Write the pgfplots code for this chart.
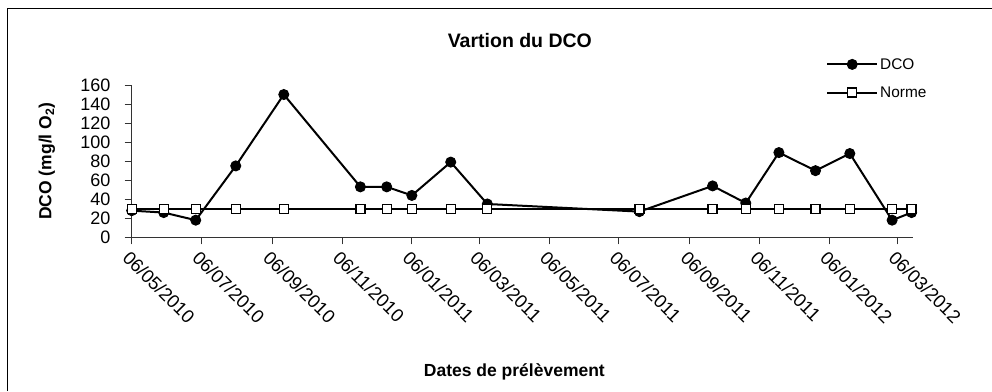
\documentclass[border=0pt]{standalone}
\usepackage{fontspec}
\setmainfont{Liberation Sans}
\usepackage{pgfplots}
\pgfplotsset{compat=1.18}

\begin{document}
\begin{tikzpicture}[x=1pt,y=1pt]
\useasboundingbox (0,0) rectangle (992,-391);
% chart frame (only top and left edges are visible)
\draw[line width=1pt] (7,-391) -- (7,-8) -- (992,-8);

\begin{axis}[
	at={(131.7pt,-237.3pt)}, anchor=south west,
	scale only axis, width=781pt, height=152.3pt,
	xmin=0, xmax=683, ymin=0, ymax=160,
	enlargelimits=false, clip=false,
	axis lines=left,
	axis line style={-, black!80, line width=1pt},
	tick align=outside, major tick length=7pt,
	tick style={black!80, line width=1pt},
	% days counted from 06/05/2010
	xtick={0,61,123,184,245,304,365,426,488,549,610,670},
	xticklabels={06/05/2010,06/07/2010,06/09/2010,06/11/2010,06/01/2011,06/03/2011,
		06/05/2011,06/07/2011,06/09/2011,06/11/2011,06/01/2012,06/03/2012},
	ytick={0,20,...,160},
	yticklabel style={font=\fontsize{18}{18}\selectfont, anchor=east, inner sep=0pt, xshift=-14pt},
	/pgf/number format/assume math mode=true,
	xticklabel style={font=\fontsize{18.5}{19}\selectfont, rotate=-45, anchor=north west, inner sep=0pt, xshift=3pt, yshift=-4pt},
	title={Vartion du DCO},
	title style={font=\bfseries\fontsize{19.5}{20}\selectfont, at={(0.497,1.25)}, anchor=center},
	xlabel={Dates de prélèvement},
	xlabel style={font=\bfseries\fontsize{17.5}{18}\selectfont, at={(0.49,-0.884)}, anchor=center},
	ylabel={DCO (mg/l O\textsubscript{2})},
	ylabel style={font=\bfseries\fontsize{17.5}{18}\selectfont, at={(-0.1085,0.5)}, anchor=center},
	legend cell align=left,
	legend style={draw=none, fill=none, at={(0.889,1.19)}, anchor=north west,
		inner sep=0pt, row sep=12pt, font=\fontsize{15.4}{16}\selectfont},
	legend image code/.code={
		\draw[#1] (0pt,0pt) -- (50pt,0pt);
		\draw[#1] plot coordinates {(25pt,0pt)};
	},
]
	%% DCO
	\addplot[black, line width=2pt, mark=*, mark size=5pt,
		mark options={solid, fill=black, line width=1pt}] coordinates {
		(0,28) (28,26) (56,18) (91,75) (133,150) (200,53) (223,53) (245,44)
		(279,79) (311,35) (444,27) (508,54) (537,36) (566,89) (598,70)
		(628,88) (665,18) (682,26)
	};
	%% Norme
	\addplot[black, line width=2pt, mark=square*, mark size=4.5pt,
		mark options={solid, fill=white, line width=1.3pt}] coordinates {
		(0,30) (28,30) (56,30) (91,30) (133,30) (200,30) (223,30) (245,30)
		(279,30) (311,30) (444,30) (508,30) (537,30) (566,30) (598,30)
		(628,30) (665,30) (682,30)
	};
	\legend{DCO, Norme}
\end{axis}
\end{tikzpicture}
\end{document}
